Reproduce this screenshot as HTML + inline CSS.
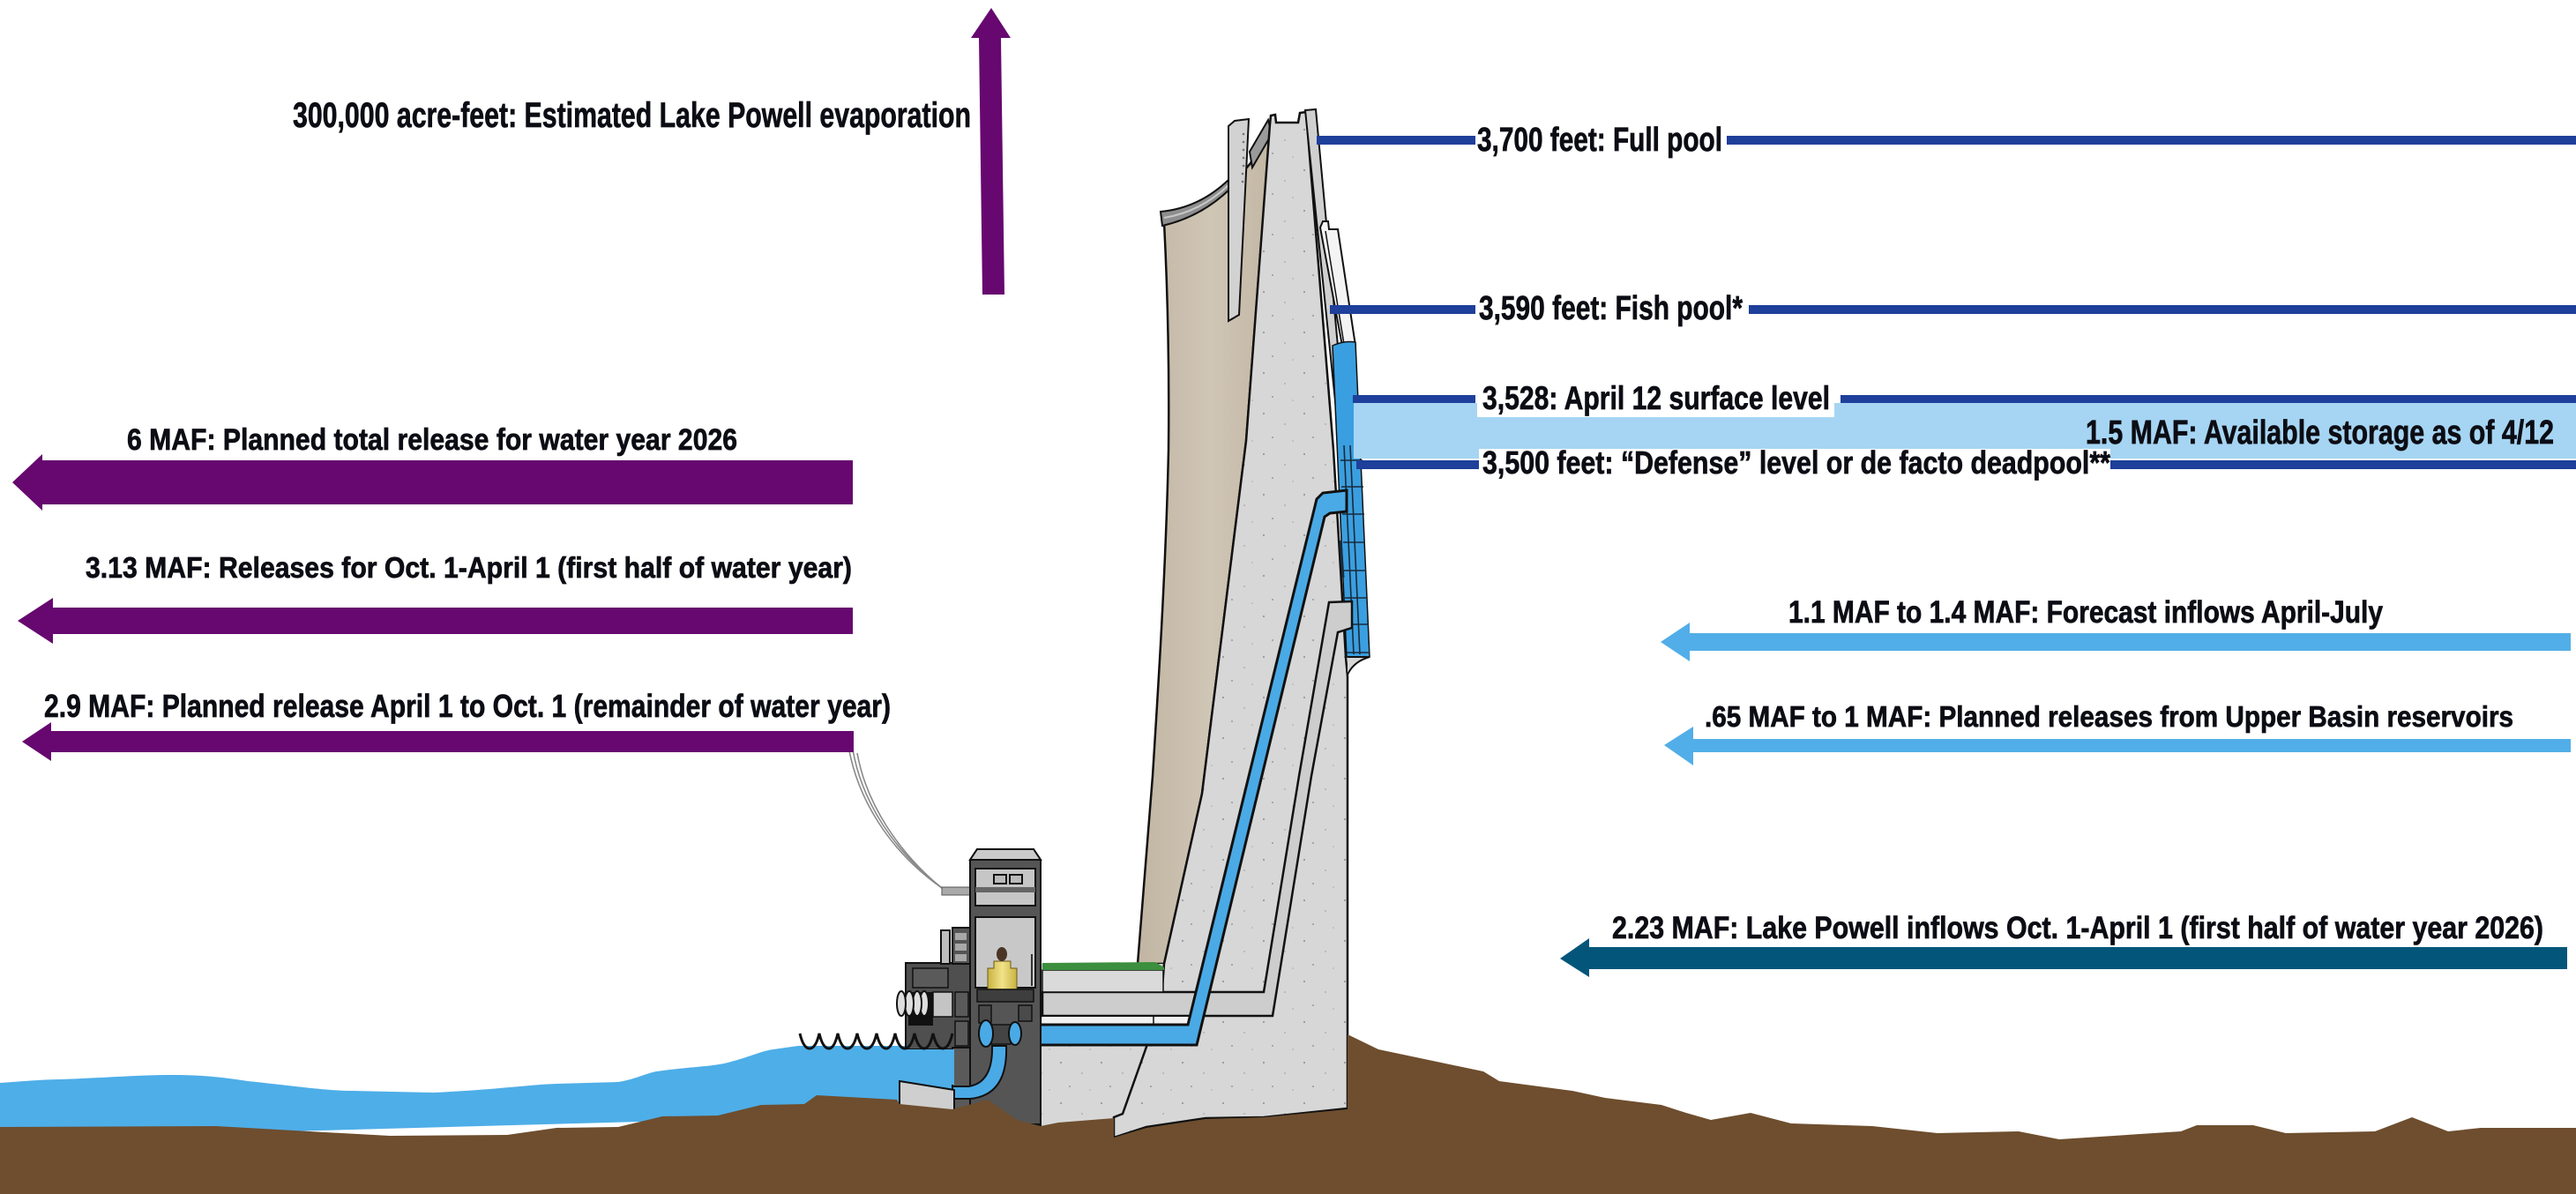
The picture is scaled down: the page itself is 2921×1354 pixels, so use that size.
<!DOCTYPE html>
<html>
<head>
<meta charset="utf-8">
<style>
html,body{margin:0;padding:0;background:#fff;}
svg{display:block;}
text{font-family:"Liberation Sans","DejaVu Sans",sans-serif;font-weight:700;fill:#0c0d14;stroke:#0c0d14;stroke-width:0.7px;}
</style>
</head>
<body>
<svg width="2921" height="1354" viewBox="0 0 2921 1354" xmlns="http://www.w3.org/2000/svg">
<defs>
  <pattern id="speck" width="46" height="46" patternUnits="userSpaceOnUse">
    <rect width="46" height="46" fill="#d7d7d7"/>
    <circle cx="7" cy="9" r="1.1" fill="#9a9a9a"/>
    <circle cx="31" cy="21" r="0.9" fill="#a5a5a5"/>
    <circle cx="17" cy="36" r="1" fill="#999"/>
    <circle cx="40" cy="40" r="0.8" fill="#aaa"/>
  </pattern>
  <linearGradient id="beige" x1="0" y1="0" x2="1" y2="0">
    <stop offset="0" stop-color="#c1b5a2"/>
    <stop offset="0.55" stop-color="#d0c6b6"/>
    <stop offset="1" stop-color="#c3b7a4"/>
  </linearGradient>
  <linearGradient id="gen" x1="0" y1="0" x2="1" y2="0">
    <stop offset="0" stop-color="#c9b240"/>
    <stop offset="0.5" stop-color="#f2e38a"/>
    <stop offset="1" stop-color="#c9b240"/>
  </linearGradient>
</defs>

<!-- left water -->
<path d="M0,1228 C30,1226 50,1224 70,1224 C120,1222 160,1219 196,1219 C230,1219 255,1222 281,1226 C330,1231 370,1237 400,1237 L491,1239 C560,1236 600,1230 631,1229 L701,1227 C720,1224 730,1218 744,1215 C780,1210 800,1210 821,1206 C850,1199 862,1192 877,1190 L905,1186 L1090,1186 L1090,1262 L0,1292 Z" fill="#4eaee8"/>

<!-- beige downstream face -->
<path d="M1320,252 Q1362,243 1395,212 L1418,185 L1440,146 L1413,500 L1363,900 L1320,1093 L1290,1093 L1307,880 C1312,800 1322,650 1325,510 C1326,420 1324,330 1320,252 Z" fill="url(#beige)" stroke="#111" stroke-width="2.5"/>
<!-- lip -->
<path d="M1316,240 Q1360,236 1394,203 L1395,214 Q1362,246 1318,256 Z" fill="#8e8e8e" stroke="#111" stroke-width="2"/>
<path d="M1320,247 Q1362,240 1394,209" fill="none" stroke="#c8c8c8" stroke-width="2"/>
<!-- plate -->
<path d="M1393,143 L1400,137 L1416,135 L1405,357 L1393,364 Z" fill="#d2d2d2" stroke="#111" stroke-width="2"/>
<g fill="#777">
<circle cx="1410" cy="152" r="1.3"/><circle cx="1410" cy="161" r="1.3"/><circle cx="1410" cy="170" r="1.3"/><circle cx="1410" cy="179" r="1.3"/><circle cx="1410" cy="188" r="1.3"/><circle cx="1409" cy="197" r="1.3"/><circle cx="1409" cy="206" r="1.3"/>
</g>
<!-- diagonal strip -->
<path d="M1417,172 L1438,136 L1442,152 L1420,190 Z" fill="#9a9a9a" stroke="#111" stroke-width="2"/>

<!-- lower gray region under deck -->
<path d="M1180,1093 L1320,1093 L1300,1187 L1273,1263 L1263,1267 L1263,1292 L1180,1292 Z" fill="url(#speck)"/>
<!-- main concrete wedge -->
<path d="M1440,141 L1441,131 L1446,130 L1447,139 L1472,139 L1474,128 L1481,127 L1512,510 L1526,745 L1528,767 L1528,1257 L1433,1267 L1367,1268 L1300,1278 L1263,1290 L1263,1267 L1273,1263 L1300,1187 L1318,1120 L1320,1093 L1363,900 L1413,500 Z" fill="url(#speck)" stroke="#111" stroke-width="2.5"/>
<!-- parapet strip -->
<path d="M1480,125 L1492,124 L1527,500 L1519,503 Z" fill="#d0d0d0" stroke="#111" stroke-width="2"/>
<!-- intake structure -->
<path d="M1497,258 L1500,251 L1506,251 L1507,260 L1517,260 L1537,392 L1522,392 Z" fill="#f4f4f4" stroke="#111" stroke-width="2"/>
<path d="M1503,262 L1524,390" stroke="#111" stroke-width="1.5"/>
<!-- intake water -->
<path d="M1511,392 Q1524,386 1537,388 L1553,745 L1527,745 Z" fill="#3a9fe0" stroke="#111" stroke-width="1.5"/>
<g stroke="#1a2a3a" stroke-width="1.6">
<line x1="1520" y1="522" x2="1545" y2="522"/>
<line x1="1521" y1="552" x2="1546" y2="552"/>
<line x1="1522" y1="583" x2="1547" y2="583"/>
<line x1="1523" y1="615" x2="1548" y2="615"/>
<line x1="1524" y1="647" x2="1549" y2="647"/>
<line x1="1525" y1="678" x2="1550" y2="678"/>
<line x1="1526" y1="708" x2="1552" y2="708"/>
<line x1="1527" y1="740" x2="1553" y2="740"/>
<line x1="1524" y1="505" x2="1535" y2="742"/>
<line x1="1531" y1="505" x2="1542" y2="742"/>
<line x1="1520" y1="613" x2="1523" y2="655" stroke-width="3"/>
</g>
<path d="M1528,745 L1553,745 Q1535,750 1528,765" fill="#d7d7d7" stroke="#111" stroke-width="2"/>

<!-- gray conduit -->
<path d="M1182,1125 L1433,1125 L1473,880 L1507,683 L1533,682 L1533,712 L1517,717 L1487,880 L1443,1152 L1182,1152 Z" fill="#cdcdcd" stroke="#111" stroke-width="2.5"/>
<!-- white strip -->
<rect x="1182" y="1153" width="170" height="8" fill="#f2f2f2"/>
<line x1="1308" y1="1152" x2="1308" y2="1162" stroke="#111" stroke-width="1.5"/>
<!-- penstock -->
<path d="M1527,556 L1500,559 L1493,566 L1347,1162 L1157,1162 L1157,1185 L1357,1185 L1502,586 L1508,582 L1527,580 Z" fill="#4aaae6" stroke="#111" stroke-width="3"/>
<!-- deck and green roof -->
<rect x="1182" y="1100" width="137" height="25" fill="#dadada" stroke="#111" stroke-width="1.5"/>
<path d="M1182,1092 L1310,1091 L1320,1097 L1320,1100 L1182,1100 Z" fill="#3c8f3e"/>

<!-- wires -->
<g fill="none" stroke="#8a8a8a" stroke-width="1.6">
<path d="M962,846 C972,905 1008,965 1068,1007"/>
<path d="M967,850 C977,908 1013,966 1071,1009"/>
<path d="M972,854 C982,910 1018,968 1074,1012"/>
</g>
<rect x="1068" y="1006" width="32" height="9" fill="#aaa" stroke="#555" stroke-width="1"/>

<!-- powerhouse lower-left block -->
<rect x="1027" y="1092" width="73" height="98" fill="#4f4f4f" stroke="#111" stroke-width="2"/>
<rect x="1030" y="1125" width="28" height="38" fill="#111"/>
<rect x="1058" y="1125" width="22" height="28" fill="#c4c4c4" stroke="#111" stroke-width="1.5"/>
<rect x="1083" y="1125" width="15" height="28" fill="#5a5a5a" stroke="#111" stroke-width="1.5"/>
<rect x="1083" y="1158" width="15" height="28" fill="#5a5a5a" stroke="#111" stroke-width="1.5"/>
<rect x="1035" y="1098" width="40" height="22" fill="#5a5a5a" stroke="#111" stroke-width="1.5"/>
<g fill="#dedede" stroke="#111" stroke-width="2">
<ellipse cx="1048" cy="1138" rx="5" ry="14"/>
<ellipse cx="1040" cy="1138" rx="5" ry="14"/>
<ellipse cx="1031" cy="1138" rx="5" ry="14"/>
<ellipse cx="1022" cy="1138" rx="5" ry="14"/>
</g>
<!-- annex -->
<rect x="1067" y="1055" width="10" height="38" fill="#bdbdbd" stroke="#111" stroke-width="2"/>
<rect x="1080" y="1052" width="20" height="41" fill="#555" stroke="#111" stroke-width="2"/>
<g fill="#a8a8a8"><rect x="1083" y="1058" width="13" height="8"/><rect x="1083" y="1070" width="13" height="8"/><rect x="1083" y="1082" width="13" height="8"/></g>

<!-- tower lower -->
<rect x="1080" y="1188" width="100" height="88" fill="#5a5a5a" stroke="#111" stroke-width="2"/>
<!-- tower -->
<path d="M1100,975 L1108,963 L1172,963 L1180,975 L1180,1275 L1100,1275 Z" fill="#555" stroke="#111" stroke-width="2"/>
<path d="M1100,975 L1108,963 L1172,963 L1180,975 Z" fill="#cacaca" stroke="#111" stroke-width="2"/>
<rect x="1106" y="985" width="68" height="42" fill="#c6c6c6" stroke="#111" stroke-width="2"/>
<rect x="1106" y="1006" width="68" height="6" fill="#666"/>
<rect x="1127" y="992" width="14" height="10" fill="#bbb" stroke="#111" stroke-width="2"/>
<rect x="1145" y="992" width="14" height="10" fill="#bbb" stroke="#111" stroke-width="2"/>
<rect x="1106" y="1040" width="68" height="80" fill="#c8c8c8" stroke="#111" stroke-width="2"/>
<line x1="1170" y1="1082" x2="1170" y2="1118" stroke="#333" stroke-width="2"/>
<path d="M1120,1098 L1127,1098 L1127,1090 L1146,1090 L1146,1098 L1153,1098 L1153,1122 L1120,1122 Z" fill="url(#gen)" stroke="#6b5a1a" stroke-width="1"/>
<ellipse cx="1136" cy="1082" rx="6" ry="8" fill="#4a3525"/>
<rect x="1108" y="1122" width="64" height="14" fill="#3e3e3e" stroke="#111" stroke-width="1.5"/>
<rect x="1110" y="1140" width="14" height="20" fill="#4a4a4a" stroke="#111" stroke-width="1.5"/>
<rect x="1155" y="1140" width="15" height="18" fill="#4a4a4a" stroke="#111" stroke-width="1.5"/>
<!-- draft tube -->
<path d="M1125,1186 L1141,1186 Q1143,1242 1100,1246 L1080,1246 L1080,1232 L1098,1232 Q1126,1228 1125,1186 Z" fill="#4aaae6" stroke="#111" stroke-width="2"/>
<!-- turbine -->
<rect x="1124" y="1162" width="22" height="22" fill="#444" stroke="#111" stroke-width="1.5"/>
<ellipse cx="1118" cy="1172" rx="8" ry="15" fill="#4aaae6" stroke="#111" stroke-width="2"/>
<ellipse cx="1151" cy="1172" rx="7" ry="13" fill="#4aaae6" stroke="#111" stroke-width="2"/>
<!-- tailrace -->
<rect x="1020" y="1190" width="62" height="40" fill="#4eaee8"/>
<path d="M1020,1226 L1082,1236 L1082,1260 L1020,1260 Z" fill="#cfcfcf" stroke="#111" stroke-width="2"/>
<!-- waves -->
<path d="M907,1172 Q911,1189 918,1189 Q925,1189 929,1172 Q933,1189 940,1189 Q946,1189 950,1172 Q954,1189 961,1189 Q968,1189 972,1172 Q976,1189 983,1189 Q990,1189 994,1172 Q998,1189 1005,1189 Q1011,1189 1015,1172 Q1019,1189 1026,1189 Q1033,1189 1037,1172 Q1041,1189 1048,1189 Q1054,1189 1058,1172 Q1062,1189 1069,1189 Q1076,1189 1080,1172" fill="none" stroke="#111" stroke-width="3"/>

<!-- ground -->
<path d="M0,1278 L245,1277 L351,1283 L442,1288 L575,1287 L631,1279 L701,1278 L751,1266 L814,1265 L863,1253 L912,1252 L926,1242 L1017,1247 L1020,1252 L1080,1258 L1120,1247 L1153,1270 L1180,1277 L1200,1273 L1263,1268 L1263,1290 L1300,1279 L1367,1269 L1433,1267 L1528,1258 L1528,1173 L1563,1190 L1682,1215 L1700,1226 L1783,1237 L1820,1245 L1884,1253 L1912,1262 L1940,1270 L1985,1262 L2031,1274 L2123,1277 L2197,1285 L2289,1283 L2335,1292 L2473,1283 L2491,1276 L2555,1276 L2592,1285 L2693,1283 L2735,1267 L2776,1283 L2813,1279 L2921,1279 L2921,1354 L0,1354 Z" fill="#6e4e2e"/>

<!-- level lines -->
<rect x="1535" y="457" width="1386" height="63" fill="#a6d5f3"/>
<g fill="#1e3f9a">
<rect x="1493" y="154" width="180" height="10"/>
<rect x="1958" y="154" width="963" height="10"/>
<rect x="1508" y="346" width="165" height="10"/>
<rect x="1983" y="346" width="938" height="10"/>
<rect x="1534" y="448" width="139" height="9"/>
<rect x="2087" y="448" width="834" height="9"/>
<rect x="1538" y="522" width="140" height="10"/>
<rect x="2393" y="522" width="528" height="10"/>
</g>
<rect x="1675" y="437" width="405" height="36" fill="#fff"/>
<rect x="1677" y="509" width="716" height="34" fill="#fff"/>

<!-- purple arrows -->
<g fill="#66086f">
<path d="M1101,43 L1124,9 L1146,43 L1135,43 L1139,334 L1114,334 L1110,43 Z"/>
<path d="M14,547 L48,515 L48,522 L967,522 L967,572 L48,572 L48,579 Z"/>
<path d="M20,704 L60,678 L60,689 L967,689 L967,719 L60,719 L60,730 Z"/>
<path d="M25,841 L58,819 L58,829 L968,829 L968,853 L58,853 L58,863 Z"/>
</g>
<!-- blue arrows -->
<g fill="#52aee8">
<path d="M1883,728 L1916,706 L1916,718 L2915,718 L2915,738 L1916,738 L1916,750 Z"/>
<path d="M1887,845 L1920,824 L1920,838 L2915,838 L2915,853 L1920,853 L1920,868 Z"/>
</g>
<path d="M1769,1087 L1802,1064 L1802,1074 L2911,1074 L2911,1099 L1802,1099 L1802,1108 Z" fill="#03567a"/>

<!-- labels -->
<text x="332" y="144" font-size="40" textLength="769" lengthAdjust="spacingAndGlyphs">300,000 acre-feet: Estimated Lake Powell evaporation</text>
<text x="144" y="510" font-size="34" textLength="692" lengthAdjust="spacingAndGlyphs">6 MAF: Planned total release for water year 2026</text>
<text x="97" y="655" font-size="33" textLength="869" lengthAdjust="spacingAndGlyphs">3.13 MAF: Releases for Oct. 1-April 1 (first half of water year)</text>
<text x="50" y="813" font-size="36" textLength="960" lengthAdjust="spacingAndGlyphs">2.9 MAF: Planned release April 1 to Oct. 1 (remainder of water year)</text>
<text x="1675" y="171" font-size="38" textLength="278" lengthAdjust="spacingAndGlyphs">3,700 feet: Full pool</text>
<text x="1677" y="362" font-size="38" textLength="299" lengthAdjust="spacingAndGlyphs">3,590 feet: Fish pool*</text>
<text x="1681" y="464" font-size="37" textLength="394" lengthAdjust="spacingAndGlyphs">3,528: April 12 surface level</text>
<text x="2365" y="503" font-size="38" textLength="531" lengthAdjust="spacingAndGlyphs">1.5 MAF: Available storage as of 4/12</text>
<text x="1681" y="537" font-size="36" textLength="712" lengthAdjust="spacingAndGlyphs">3,500 feet: “Defense” level or de facto deadpool**</text>
<text x="2028" y="706" font-size="35" textLength="674" lengthAdjust="spacingAndGlyphs">1.1 MAF to 1.4 MAF: Forecast inflows April-July</text>
<text x="1933" y="824" font-size="33" textLength="917" lengthAdjust="spacingAndGlyphs">.65 MAF to 1 MAF: Planned releases from Upper Basin reservoirs</text>
<text x="1828" y="1064" font-size="35" textLength="1056" lengthAdjust="spacingAndGlyphs">2.23 MAF: Lake Powell inflows Oct. 1-April 1 (first half of water year 2026)</text>
</svg>
</body>
</html>
